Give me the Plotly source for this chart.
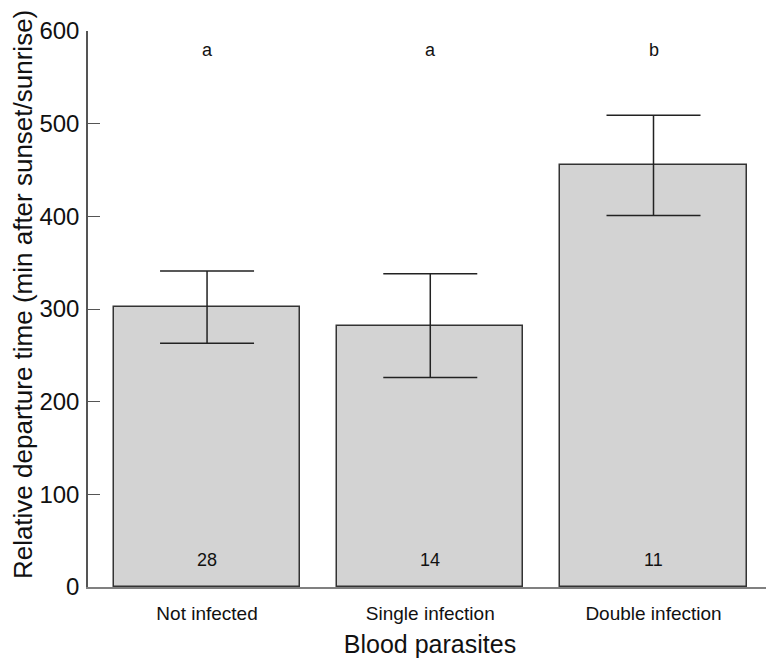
import plotly.graph_objects as go

categories = ["Not infected", "Single infection", "Double infection"]
means = [302, 282, 455]
errors = [39, 56, 54]
letters = ["a", "a", "b"]
counts = ["28", "14", "11"]
positions = [0.7, 1.9, 3.1]
y_ticks = [0, 100, 200, 300, 400, 500, 600]
y_title = "Relative departure time (min after sunset/sunrise)"
x_title = "Blood parasites"

FONT = "Liberation Sans, Arial, sans-serif"

fig = go.Figure()
fig.add_trace(go.Bar(
    x=positions, y=means, width=1.0,
    marker=dict(color="#d3d3d3", line=dict(color="#333333", width=1.5)),
    error_y=dict(type="data", array=errors, visible=True,
                 color="#222222", thickness=1.5, width=47),
    showlegend=False,
))

for xp, lt in zip(positions, letters):
    fig.add_annotation(x=xp, y=580, text=lt, showarrow=False,
                       font=dict(family=FONT, size=18, color="#111"))
for xp, ct in zip(positions, counts):
    fig.add_annotation(x=xp, y=29, text=ct, showarrow=False,
                       font=dict(family=FONT, size=18, color="#111"))

# y-axis title as a rotated annotation so it can sit at the far left
fig.add_annotation(xref="paper", yref="paper", x=0, y=0.525,
                   xanchor="center", yanchor="middle", xshift=-65,
                   text=y_title, textangle=-90, showarrow=False,
                   font=dict(family=FONT, size=26, color="#111"))

# page body has an 8px margin, so figure is offset by 8px
fig.update_layout(
    width=766, height=655,
    margin=dict(l=80, r=2, t=23, b=76),
    paper_bgcolor="white", plot_bgcolor="white",
    font=dict(family=FONT, color="#111"),
    bargap=0,
    xaxis=dict(
        range=[0.06, 3.737], tickvals=positions, ticktext=categories,
        ticks="", showgrid=False, zeroline=False, automargin=False,
        showline=True, linecolor="#808080", linewidth=1.5,
        tickfont=dict(size=19, family=FONT, color="#111"),
        ticklabelstandoff=8,
        title=dict(text=x_title, font=dict(size=25, family=FONT, color="#111"), standoff=13),
    ),
    yaxis=dict(
        range=[0, 600], tickvals=y_ticks,
        ticks="inside", ticklen=12, tickcolor="#555", tickwidth=1.2,
        showgrid=False, zeroline=False, automargin=False,
        showline=True, linecolor="#555", linewidth=1.5,
        tickfont=dict(size=24, family=FONT, color="#111"),
        ticklabelstandoff=2,
    ),
)

fig.write_html("out.html")
